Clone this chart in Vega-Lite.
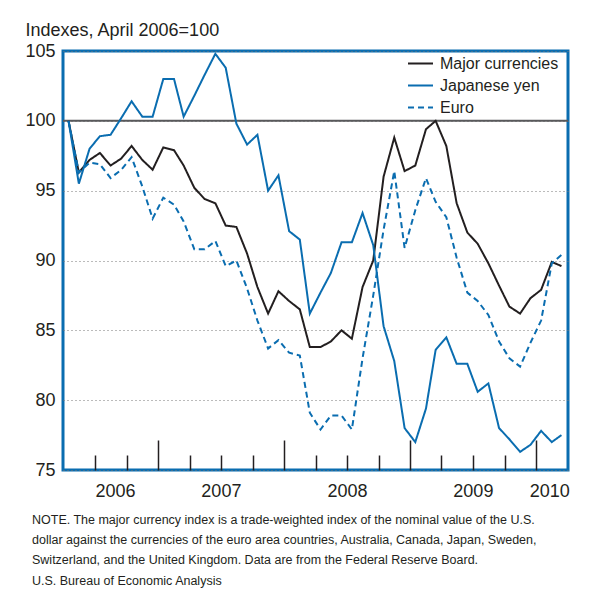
{
  "$schema": "https://vega.github.io/schema/vega-lite/v6.json",
  "width": 505,
  "height": 419,
  "autosize": {"type": "none"},
  "padding": {"left": 63, "top": 51, "right": 25, "bottom": 125},
  "background": "white",
  "config": {
    "view": {"stroke": "#0a6db0", "strokeWidth": 3},
    "font": "Liberation Sans"
  },
  "title": {
    "text": [
      "NOTE. The major currency index is a trade-weighted index of the nominal value of the U.S.",
      "dollar against the currencies of the euro area countries, Australia, Canada, Japan, Sweden,",
      "Switzerland, and the United Kingdom. Data are from the Federal Reserve Board."
    ],
    "subtitle": "U.S. Bureau of Economic Analysis",
    "orient": "bottom",
    "anchor": "start",
    "frame": "group",
    "dx": -31,
    "offset": 14,
    "font": "Liberation Sans",
    "fontSize": 12.5,
    "fontWeight": "normal",
    "color": "#231f20",
    "lineHeight": 20,
    "subtitleFont": "Liberation Sans",
    "subtitleFontSize": 12.5,
    "subtitleColor": "#231f20",
    "subtitlePadding": 8
  },
  "data": {
    "values": [
      {"date": "2006-04-15", "major": 100, "yen": 100, "euro": 100},
      {"date": "2006-05-15", "major": 96.3, "yen": 95.5, "euro": 96.3},
      {"date": "2006-06-15", "major": 97.2, "yen": 98.0, "euro": 97.0},
      {"date": "2006-07-15", "major": 97.7, "yen": 98.9, "euro": 96.9},
      {"date": "2006-08-15", "major": 96.8, "yen": 99.0, "euro": 95.9},
      {"date": "2006-09-15", "major": 97.3, "yen": 100.2, "euro": 96.5},
      {"date": "2006-10-15", "major": 98.2, "yen": 101.4, "euro": 97.4},
      {"date": "2006-11-15", "major": 97.2, "yen": 100.3, "euro": 95.3},
      {"date": "2006-12-15", "major": 96.5, "yen": 100.3, "euro": 93.0},
      {"date": "2007-01-15", "major": 98.1, "yen": 103.0, "euro": 94.5},
      {"date": "2007-02-15", "major": 97.9, "yen": 103.0, "euro": 94.0},
      {"date": "2007-03-15", "major": 96.8, "yen": 100.3, "euro": 92.8},
      {"date": "2007-04-15", "major": 95.2, "yen": 101.8, "euro": 90.8},
      {"date": "2007-05-15", "major": 94.4, "yen": 103.3, "euro": 90.8},
      {"date": "2007-06-15", "major": 94.1, "yen": 104.8, "euro": 91.4},
      {"date": "2007-07-15", "major": 92.5, "yen": 103.8, "euro": 89.6},
      {"date": "2007-08-15", "major": 92.4, "yen": 99.8, "euro": 90.0},
      {"date": "2007-09-15", "major": 90.5, "yen": 98.3, "euro": 88.0},
      {"date": "2007-10-15", "major": 88.1, "yen": 99.0, "euro": 85.7},
      {"date": "2007-11-15", "major": 86.2, "yen": 95.0, "euro": 83.7},
      {"date": "2007-12-15", "major": 87.8, "yen": 96.1, "euro": 84.3},
      {"date": "2008-01-15", "major": 87.1, "yen": 92.1, "euro": 83.4},
      {"date": "2008-02-15", "major": 86.5, "yen": 91.5, "euro": 83.2},
      {"date": "2008-03-15", "major": 83.8, "yen": 86.2, "euro": 79.1},
      {"date": "2008-04-15", "major": 83.8, "yen": 87.7, "euro": 77.9},
      {"date": "2008-05-15", "major": 84.2, "yen": 89.1, "euro": 78.9},
      {"date": "2008-06-15", "major": 85.0, "yen": 91.3, "euro": 78.9},
      {"date": "2008-07-15", "major": 84.4, "yen": 91.3, "euro": 77.9},
      {"date": "2008-08-15", "major": 88.1, "yen": 93.4, "euro": 83.0},
      {"date": "2008-09-15", "major": 90.0, "yen": 91.1, "euro": 87.5},
      {"date": "2008-10-15", "major": 96.0, "yen": 85.3, "euro": 92.2},
      {"date": "2008-11-15", "major": 98.8, "yen": 82.8, "euro": 96.4},
      {"date": "2008-12-15", "major": 96.4, "yen": 78.0, "euro": 90.9},
      {"date": "2009-01-15", "major": 96.8, "yen": 77.0, "euro": 93.6},
      {"date": "2009-02-15", "major": 99.4, "yen": 79.4, "euro": 95.9},
      {"date": "2009-03-15", "major": 100.0, "yen": 83.6, "euro": 94.2},
      {"date": "2009-04-15", "major": 98.2, "yen": 84.5, "euro": 93.1},
      {"date": "2009-05-15", "major": 94.1, "yen": 82.6, "euro": 90.2},
      {"date": "2009-06-15", "major": 92.0, "yen": 82.6, "euro": 87.7},
      {"date": "2009-07-15", "major": 91.2, "yen": 80.6, "euro": 87.1},
      {"date": "2009-08-15", "major": 89.8, "yen": 81.2, "euro": 86.1},
      {"date": "2009-09-15", "major": 88.2, "yen": 78.0, "euro": 84.2},
      {"date": "2009-10-15", "major": 86.7, "yen": 77.2, "euro": 83.0},
      {"date": "2009-11-15", "major": 86.2, "yen": 76.3, "euro": 82.4},
      {"date": "2009-12-15", "major": 87.3, "yen": 76.8, "euro": 84.1},
      {"date": "2010-01-15", "major": 87.9, "yen": 77.8, "euro": 85.7},
      {"date": "2010-02-15", "major": 89.9, "yen": 77.0, "euro": 89.8},
      {"date": "2010-03-15", "major": 89.6, "yen": 77.5, "euro": 90.4}
    ]
  },
  "layer": [
    {
      "data": {"values": [{}]},
      "mark": {"type": "rule", "color": "#58595b", "strokeWidth": 2},
      "encoding": {"y": {"datum": 100, "type": "quantitative"}}
    },
    {
      "transform": [{"fold": ["major", "yen", "euro"], "as": ["series", "value"]}],
      "mark": {"type": "line", "strokeWidth": 2},
      "encoding": {
        "x": {
          "field": "date",
          "type": "temporal",
          "scale": {
            "type": "utc",
            "domain": [
              {"year": 2006, "month": 3, "date": 30, "utc": true},
              {"year": 2010, "month": 4, "date": 3, "utc": true}
            ]
          },
          "axis": {
            "title": null,
            "grid": false,
            "domain": false,
            "values": [
              {"year": 2006, "month": 7, "date": 1, "utc": true},
              {"year": 2006, "month": 10, "date": 1, "utc": true},
              {"year": 2007, "month": 1, "date": 1, "utc": true},
              {"year": 2007, "month": 4, "date": 1, "utc": true},
              {"year": 2007, "month": 7, "date": 1, "utc": true},
              {"year": 2007, "month": 10, "date": 1, "utc": true},
              {"year": 2008, "month": 1, "date": 1, "utc": true},
              {"year": 2008, "month": 4, "date": 1, "utc": true},
              {"year": 2008, "month": 7, "date": 1, "utc": true},
              {"year": 2008, "month": 10, "date": 1, "utc": true},
              {"year": 2009, "month": 1, "date": 1, "utc": true},
              {"year": 2009, "month": 4, "date": 1, "utc": true},
              {"year": 2009, "month": 7, "date": 1, "utc": true},
              {"year": 2009, "month": 10, "date": 1, "utc": true},
              {"year": 2010, "month": 1, "date": 1, "utc": true}
            ],
            "labelExpr": "utcmonth(datum.value) === 6 || (utcmonth(datum.value) === 0 && utcyear(datum.value) === 2010) ? '' + utcyear(datum.value) : ''",
            "labelFlush": false,
            "labelOverlap": false,
            "labelAlign": {"condition": {"test": "utcyear(datum.value) === 2006 || utcyear(datum.value) === 2010", "value": "left"}, "value": "center"},
            "labelOffset": {"condition": {"test": "utcyear(datum.value) === 2010", "value": -7}, "value": 0},
            "labelFontSize": 18,
            "labelColor": "#231f20",
            "labelPadding": {"condition": {"test": "utcmonth(datum.value) === 0", "value": 42}, "value": 27},
            "tickColor": "#231f20",
            "tickWidth": 1.5,
            "tickSize": {"condition": {"test": "utcmonth(datum.value) === 0", "value": -30}, "value": -15}
          }
        },
        "y": {
          "field": "value",
          "type": "quantitative",
          "scale": {"domain": [75, 105], "nice": false, "zero": false},
          "axis": {
            "values": [75, 80, 85, 90, 95, 100, 105],
            "title": "Indexes, April 2006=100",
            "titleAngle": 0,
            "titleAlign": "left",
            "titleBaseline": "alphabetic",
            "titleAnchor": "start",
            "titleX": -38,
            "titleY": -16,
            "titleFontSize": 18,
            "titleFontWeight": "normal",
            "titleColor": "#231f20",
            "labelFontSize": 18,
            "labelColor": "#231f20",
            "labelPadding": 8,
            "ticks": false,
            "domain": false,
            "grid": true,
            "gridColor": "#777777",
            "gridDash": [1, 3],
            "gridWidth": 1
          }
        },
        "color": {
          "field": "series",
          "type": "nominal",
          "scale": {"domain": ["major", "yen", "euro"], "range": ["#231f20", "#0a6db0", "#0a6db0"]},
          "legend": {
            "title": null,
            "orient": "none",
            "legendX": 344,
            "legendY": -1,
            "symbolType": "stroke",
            "symbolSize": 625,
            "symbolStrokeWidth": 2,
            "labelFont": "Liberation Sans",
            "labelFontSize": 16,
            "labelColor": "#231f20",
            "labelOffset": 6,
            "rowPadding": -1,
            "padding": 0,
            "labelExpr": "datum.value === 'major' ? 'Major currencies' : datum.value === 'yen' ? 'Japanese yen' : 'Euro'"
          }
        },
        "strokeDash": {
          "field": "series",
          "type": "nominal",
          "scale": {"domain": ["major", "yen", "euro"], "range": [[1, 0], [1, 0], [6, 4]]},
          "legend": {
            "title": null,
            "orient": "none",
            "legendX": 344,
            "legendY": -1,
            "symbolType": "stroke",
            "symbolSize": 625,
            "symbolStrokeWidth": 2,
            "labelFont": "Liberation Sans",
            "labelFontSize": 16,
            "labelColor": "#231f20",
            "labelOffset": 6,
            "rowPadding": -1,
            "padding": 0,
            "labelExpr": "datum.value === 'major' ? 'Major currencies' : datum.value === 'yen' ? 'Japanese yen' : 'Euro'"
          }
        }
      }
    }
  ]
}
